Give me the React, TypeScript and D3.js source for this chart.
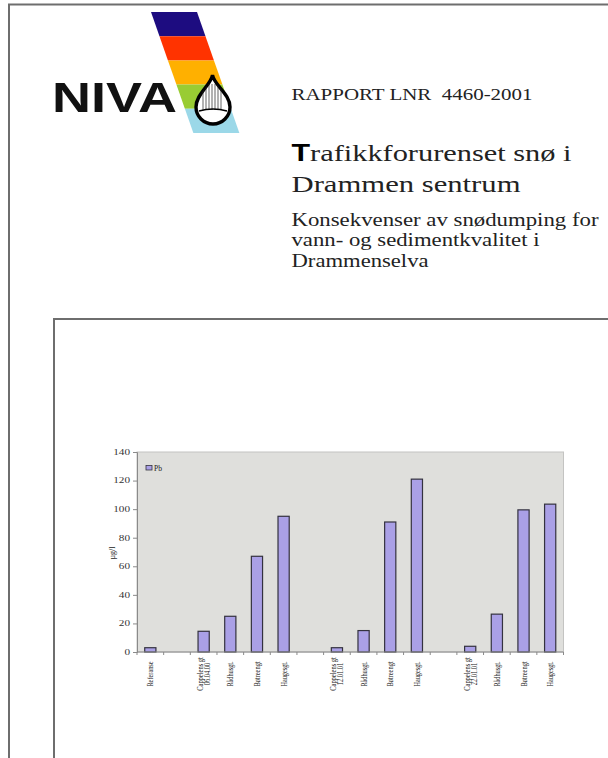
import React, { useEffect, useRef } from 'react';
import * as d3 from 'd3';

// chart data
const categories = [
  'Referanse', '', 'Cappelens gt|06.04.00', 'Rådhusgt.', 'Bøtreengt', 'Haugesgt.',
  '', 'Cappelens gt|12.01.01', 'Rådhusgt.', 'Bøtreengt', 'Haugesgt.',
  '', 'Cappelens gt|22.01.01', 'Rådhusgt.', 'Bøtreengt', 'Haugesgt.'
];
const pbValues = [3, null, 14.5, 25, 67, 95, null, 3, 15, 91, 121, null, 4, 26.5, 99.5, 103.5];
const yTicks = [0, 20, 40, 60, 80, 100, 120, 140];
const seriesName = 'Pb';
const yLabel = 'µg/l';

const stripeColors = ['#1d0c80', '#ff3300', '#ffb000', '#99cc33', '#9bd8e8'];
const subtitleLines = ['Konsekvenser av snødumping for', 'vann- og sedimentkvalitet i', 'Drammenselva'];

const BAR = '#aaa0e6';

export default function App() {
  const ref = useRef<SVGSVGElement>(null);

  useEffect(() => {
    const svg = d3.select(ref.current);
    svg.selectAll('*').remove();

    // page frame
    svg.append('path')
      .attr('d', 'M9,758 V4.5 H608')
      .attr('fill', 'none')
      .attr('stroke', '#6e6e6e')
      .attr('stroke-width', 2);

    // logo stripes
    const stripeY = d3.scaleBand<number>().domain(d3.range(stripeColors.length)).range([12, 133]);
    const slope = 0.35;
    stripeColors.forEach((c, i) => {
      const y0 = stripeY(i)!;
      const y1 = y0 + stripeY.bandwidth();
      const x0 = 151 + (y0 - 12) * slope;
      const x1 = 151 + (y1 - 12) * slope;
      svg.append('path')
        .attr('d', `M${x0},${y0} L${x0 + 46},${y0} L${x1 + 46},${y1} L${x1},${y1} Z`)
        .attr('fill', c);
    });

    // drop
    const dropPath = 'M212.5,75 C214,85 230,94 230,107 A17,17 0 1 1 196,107 C196,94 211,85 212.5,75 Z';
    const defs = svg.append('defs');
    defs.append('clipPath').attr('id', 'dropclip').append('path').attr('d', dropPath);
    svg.append('path').attr('d', dropPath).attr('fill', '#fff').attr('stroke', '#000').attr('stroke-width', 3.4);
    const lines = svg.append('g').attr('clip-path', 'url(#dropclip)');
    d3.range(203, 224, 3).forEach(x => {
      lines.append('line').attr('x1', x).attr('x2', x).attr('y1', 84).attr('y2', 110)
        .attr('stroke', '#222').attr('stroke-width', 0.7);
    });
    svg.append('path')
      .attr('d', 'M199,111 Q213,107 227,111')
      .attr('fill', 'none').attr('stroke', '#000').attr('stroke-width', 1.4);

    svg.append('text')
      .attr('x', 52).attr('y', 112)
      .attr('font-family', '"Liberation Sans", Arial, sans-serif')
      .attr('font-weight', 'bold')
      .attr('font-size', 43)
      .attr('textLength', 125)
      .attr('lengthAdjust', 'spacingAndGlyphs')
      .attr('fill', '#111')
      .text('NIVA');

    // header text
    const serif = '"Liberation Serif", "Times New Roman", serif';
    svg.append('text')
      .attr('x', 291.5).attr('y', 99.5)
      .attr('font-family', serif).attr('font-size', 17)
      .attr('textLength', 241).attr('lengthAdjust', 'spacingAndGlyphs')
      .style('white-space', 'pre')
      .attr('fill', '#222')
      .text('RAPPORT LNR  4460-2001');

    const t1 = svg.append('text')
      .attr('x', 291.5).attr('y', 161)
      .attr('font-family', serif).attr('font-size', 24)
      .attr('textLength', 280).attr('lengthAdjust', 'spacingAndGlyphs')
      .attr('fill', '#222');
    t1.append('tspan').attr('font-family', '"Liberation Sans", Arial, sans-serif').attr('font-weight', 'bold').attr('fill', '#000').text('T');
    t1.append('tspan').text('rafikkforurenset snø i');
    svg.append('text')
      .attr('x', 291.5).attr('y', 191.5)
      .attr('font-family', serif).attr('font-size', 24)
      .attr('textLength', 229).attr('lengthAdjust', 'spacingAndGlyphs')
      .attr('fill', '#222')
      .text('Drammen sentrum');

    const subWidths = [307, 248, 137];
    subtitleLines.forEach((s, i) => {
      svg.append('text')
        .attr('x', 291.5).attr('y', 226 + i * 20.3)
        .attr('font-family', serif).attr('font-size', 18)
        .attr('textLength', subWidths[i]).attr('lengthAdjust', 'spacingAndGlyphs')
        .attr('fill', '#222')
        .text(s);
    });

    // chart box
    svg.append('path')
      .attr('d', 'M54,758 V319 H608')
      .attr('fill', 'none')
      .attr('stroke', '#6e6e6e')
      .attr('stroke-width', 2);

    // plot
    const left = 137, right = 563.5, top = 452, bottom = 652;
    const x = d3.scaleBand<number>()
      .domain(d3.range(categories.length))
      .range([left, right])
      .paddingInner(0.58)
      .paddingOuter(0.29);
    const y = d3.scaleLinear().domain([0, 140]).range([bottom, top]);

    svg.append('rect')
      .attr('x', left).attr('y', top)
      .attr('width', right - left).attr('height', bottom - top)
      .attr('fill', '#dfdfdc')
      .attr('stroke', '#c4c4c2');

    const chart = svg.append('g');
    chart.selectAll('.bar')
      .data(pbValues.map((v, i) => ({ v, i })).filter(d => d.v !== null))
      .enter()
      .append('rect')
      .classed('bar', true)
      .attr('x', d => x(d.i)!)
      .attr('y', d => y(d.v as number))
      .attr('width', x.bandwidth())
      .attr('height', d => bottom - y(d.v as number))
      .attr('fill', BAR)
      .attr('stroke', '#34323f')
      .attr('stroke-width', 1.2);

    // y axis
    const yAxis = d3.axisLeft(y).tickValues(yTicks).tickSize(4).tickPadding(3);
    const ya = svg.append('g')
      .attr('transform', `translate(${left},0)`)
      .call(yAxis);
    ya.select('.domain').attr('stroke', '#8a8a8a');
    ya.selectAll('.tick line').attr('stroke', '#8a8a8a');
    ya.selectAll('.tick text')
      .attr('font-family', serif)
      .attr('font-size', 7.5)
      .attr('fill', '#333')
      .attr('textLength', (d: any) => String(d).length * 5.6)
      .attr('lengthAdjust', 'spacingAndGlyphs');

    svg.append('text')
      .attr('transform', `translate(115,553) rotate(-90)`)
      .attr('text-anchor', 'middle')
      .attr('font-family', serif)
      .attr('font-size', 8)
      .attr('fill', '#222')
      .attr('textLength', 13)
      .attr('lengthAdjust', 'spacingAndGlyphs')
      .text(yLabel);

    // x axis
    const step = x.step();
    svg.append('line')
      .attr('x1', left).attr('x2', right)
      .attr('y1', bottom).attr('y2', bottom)
      .attr('stroke', '#8a8a8a');
    d3.range(categories.length + 1).forEach(i => {
      const tx = left + i * step;
      svg.append('line')
        .attr('x1', tx).attr('x2', tx)
        .attr('y1', bottom).attr('y2', bottom + 3)
        .attr('stroke', '#8a8a8a');
    });

    categories.forEach((c, i) => {
      if (!c) return;
      const parts = c.split('|');
      const cx = x(i)! + x.bandwidth() / 2;
      parts.forEach((p, j) => {
        const off = (j - (parts.length - 1) / 2) * 7;
        svg.append('text')
          .attr('transform', `translate(${cx + off + 3},674) rotate(-90)`)
          .attr('text-anchor', 'middle')
          .attr('font-family', serif)
          .attr('font-size', 8.5)
          .attr('fill', '#222')
          .attr('textLength', p.length * 2.8)
          .attr('lengthAdjust', 'spacingAndGlyphs')
          .text(p);
      });
    });

    // legend
    svg.append('rect')
      .attr('x', 146).attr('y', 465.5)
      .attr('width', 6).attr('height', 4.5)
      .attr('fill', BAR)
      .attr('stroke', '#34323f')
      .attr('stroke-width', 0.8);
    svg.append('text')
      .attr('x', 154).attr('y', 470.5)
      .attr('font-family', serif)
      .attr('font-size', 7.5)
      .attr('fill', '#222')
      .attr('textLength', 8)
      .attr('lengthAdjust', 'spacingAndGlyphs')
      .text(seriesName);
  }, []);

  return (
    <svg
      ref={ref}
      width={608}
      height={758}
      style={{ position: 'absolute', left: 0, top: 0, background: '#fff' }}
    />
  );
}
